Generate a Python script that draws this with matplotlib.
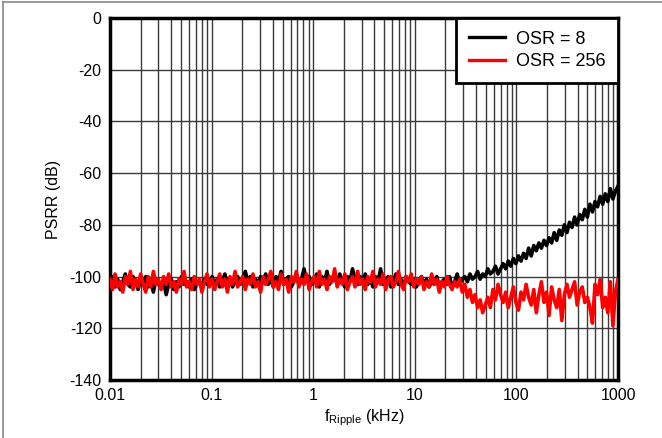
import numpy as np
import matplotlib
matplotlib.use("Agg")
import matplotlib.pyplot as plt
from matplotlib.lines import Line2D
from matplotlib.ticker import LogLocator, FixedLocator, NullFormatter

plt.rcParams['font.family'] = ['Liberation Sans', 'DejaVu Sans']

# frequency grid (kHz), log spaced from 0.01 to 1000
freq_khz = np.logspace(-2, 3, 200)

psrr_osr8 = [
    -103,-100,-104,-101,-105,-102,-99,-103,-104,-100,-102,-105,-101,-103,-100,-104,-102,-106,-101,-103,
    -104,-102,-107,-103,-101,-105,-102,-104,-100,-103,-102,-104,-101,-105,-103,-102,-104,-101,-103,-102,
    -100,-103,-101,-104,-102,-99,-103,-101,-104,-102,-100,-103,-101,-98,-102,-100,-104,-101,-103,-100,
    -102,-99,-103,-101,-104,-100,-102,-98,-103,-101,-100,-104,-102,-99,-103,-101,-97,-102,-100,-103,
    -101,-99,-104,-100,-102,-98,-103,-101,-100,-103,-99,-102,-104,-100,-102,-97,-101,-103,-100,-102,
    -99,-103,-101,-104,-100,-102,-97,-103,-101,-100,-104,-102,-99,-103,-101,-104,-100,-102,-103,-101,
    -104,-102,-100,-103,-101,-104,-102,-103,-100,-104,-102,-101,-103,-100,-104,-102,-99,-103,-101,-100,
    -102,-99,-101,-100,-98,-101,-99,-100,-97,-99,-98,-96,-99,-97,-95,-97,-94,-96,-93,-95,
    -92,-94,-91,-93,-89,-92,-88,-90,-87,-89,-86,-88,-85,-87,-83,-86,-82,-84,-80,-83,
    -79,-81,-77,-80,-76,-78,-74,-77,-72,-75,-71,-73,-69,-72,-68,-71,-66,-70,-67,-65,
]

psrr_osr256 = [
    -101,-105,-99,-104,-102,-106,-100,-103,-98,-105,-101,-104,-99,-103,-106,-100,-104,-98,-103,-101,
    -105,-100,-103,-99,-104,-102,-106,-101,-103,-98,-104,-102,-105,-100,-103,-101,-106,-102,-99,-104,
    -101,-105,-102,-99,-104,-101,-106,-100,-103,-98,-104,-102,-100,-105,-101,-103,-99,-104,-102,-106,
    -100,-103,-101,-98,-104,-102,-105,-99,-103,-101,-106,-100,-102,-98,-104,-101,-103,-99,-105,-102,
    -100,-104,-98,-103,-101,-105,-100,-102,-97,-104,-101,-103,-99,-105,-102,-100,-104,-98,-103,-101,
    -105,-100,-102,-98,-104,-101,-103,-99,-105,-101,-100,-104,-102,-98,-103,-105,-100,-102,-99,-104,
    -101,-103,-100,-105,-102,-104,-99,-103,-101,-106,-102,-104,-100,-103,-105,-102,-104,-101,-106,-103,
    -108,-105,-110,-107,-112,-109,-114,-111,-108,-112,-105,-109,-103,-107,-110,-106,-112,-108,-104,-110,
    -113,-106,-109,-103,-108,-111,-105,-114,-107,-102,-110,-106,-115,-104,-109,-112,-105,-117,-107,-103,
    -108,-105,-102,-111,-106,-104,-110,-108,-112,-118,-103,-107,-101,-112,-108,-114,-102,-119,-106,-101,
]

series_labels = ["OSR = 8", "OSR = 256"]
series_colors = ["#000000", "#ff0000"]
x_ticks = [0.01, 0.1, 1, 10, 100, 1000]
x_ticklabels = ["0.01", "0.1", "1", "10", "100", "1000"]
y_ticks = [0, -20, -40, -60, -80, -100, -120, -140]

fig = plt.figure(figsize=(6.62, 4.38), dpi=100)
ax = fig.add_axes([110/662, 1-380/438, (618-110)/662, (380-18)/438])

for ys, lab, col in zip([psrr_osr8, psrr_osr256], series_labels, series_colors):
    ax.plot(freq_khz, ys, color=col, lw=2.6, label=lab, zorder=3)

ax.set_xscale('log')
ax.set_xlim(0.01, 1000)
ax.set_ylim(-140, 0)
ax.xaxis.set_major_locator(FixedLocator(x_ticks))
ax.set_xticklabels(x_ticklabels)
ax.xaxis.set_minor_locator(LogLocator(base=10, subs=np.arange(2, 10)))
ax.xaxis.set_minor_formatter(NullFormatter())
ax.set_yticks(y_ticks)
ax.set_yticklabels([str(v) for v in y_ticks])

ax.grid(True, which='major', axis='both', color='#3a3a3a', lw=1.0, zorder=1)
ax.grid(True, which='minor', axis='x', color='#3a3a3a', lw=1.0, zorder=1)

ax.tick_params(axis='both', which='both', length=0, labelsize=11.5, pad=6, colors='black')
for s in ax.spines.values():
    s.set_linewidth(2.5)
    s.set_color('black')

ax.set_ylabel("PSRR (dB)", fontsize=11.5, labelpad=6)
ax.set_xlabel("f$_{\\mathregular{Ripple}}$ (kHz)", fontsize=11.5, labelpad=3)

leg = ax.legend(loc='upper right', fontsize=13, frameon=True, fancybox=False,
                borderaxespad=0, handlelength=2.0, handletextpad=0.6,
                borderpad=0.7, labelspacing=0.3)
leg.get_frame().set_edgecolor('black')
leg.get_frame().set_linewidth(2.0)
leg.get_frame().set_alpha(1)
for h in leg.get_lines():
    h.set_linewidth(2.4)

fig.add_artist(Line2D([3/662, 3/662], [0, 1 - 2/438], transform=fig.transFigure, color='#888888', lw=1.2))
fig.add_artist(Line2D([3/662, 1], [1 - 2/438, 1 - 2/438], transform=fig.transFigure, color='#888888', lw=1.2))

fig.savefig("out.png", dpi=100)
